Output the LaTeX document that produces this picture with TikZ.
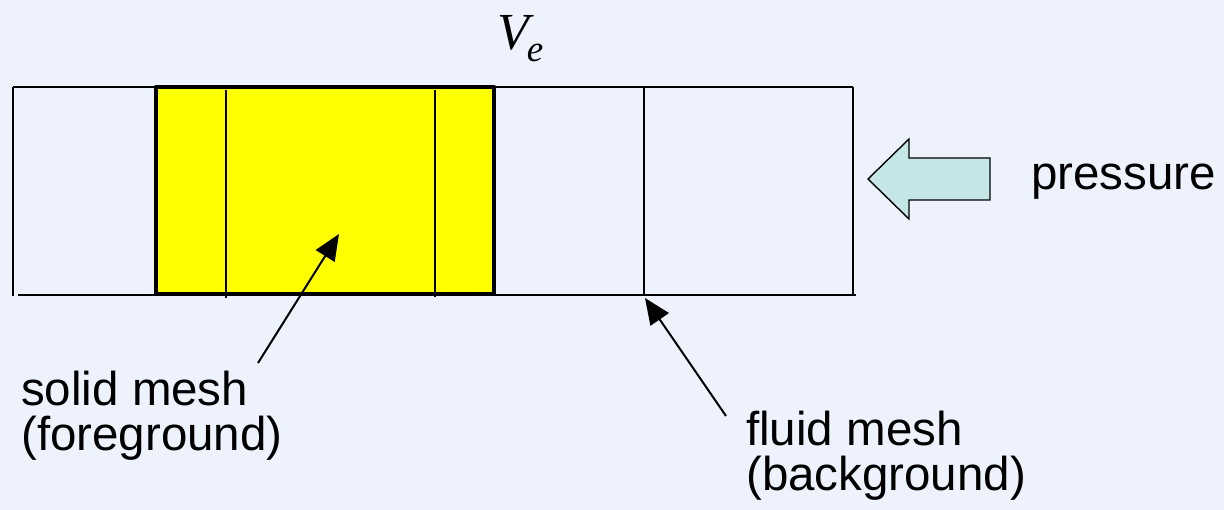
\documentclass[tikz,border=0pt]{standalone}
\usepackage{fontspec}
\setmainfont{Liberation Sans}
\newfontfamily\timesfont{Liberation Serif}
\usetikzlibrary{arrows.meta}
\definecolor{paper}{RGB}{238,242,253}
\definecolor{solidfill}{RGB}{255,255,0}
\definecolor{pressfill}{RGB}{196,230,230}
\tikzset{
  meshline/.style={line width=1.6pt, black},
  solidedge/.style={line width=4.5pt, black, line join=round},
  label/.style={font=\fontsize{47.5}{45}\selectfont, anchor=base west, inner sep=0pt, align=left},
  pointer/.style={line width=2pt, -{Triangle[length=26pt,width=22pt]}},
}
\begin{document}
\begin{tikzpicture}[x=1pt,y=-1pt]
  % page and background
  \fill[paper] (0,0) rectangle (1224,510);
  \useasboundingbox (0,0) rectangle (1224,510);

  % solid mesh block
  \fill[solidfill] (156,87) rectangle (494,294);

  % background fluid mesh
  \draw[meshline] (13,87) -- (853,87);
  \draw[meshline] (18,295) -- (856,295);
  \draw[meshline] (13,87) -- (13,296);
  \draw[meshline] (644,87) -- (644,296);
  \draw[meshline] (853,87) -- (853,296);

  % solid element interfaces
  \draw[meshline] (226,90) -- (226,298);
  \draw[meshline] (435,90) -- (435,297);
  \draw[solidedge] (156,87) rectangle (494,294);

  % volume label
  \node[inner sep=0pt, anchor=base west] (ve) at (497,50)
    {\timesfont\itshape\fontsize{52}{52}\selectfont V\kern-2pt\raisebox{-12pt}{\fontsize{37}{37}\selectfont e}};

  % applied pressure
  \draw[line width=1.4pt, fill=pressfill, line join=miter]
    (868,179) -- (909,139) -- (909,158) -- (990,158) -- (990,200) -- (909,200) -- (909,219) -- cycle;
  \node[label] (press) at (1031,190) {pressure};

  % annotations (base anchor sits on the last line)
  \node[label] (solidlbl) at (21,450) {solid mesh\\(foreground)};
  \node[label] (fluidlbl) at (746,490) {fluid mesh\\(background)};

  \coordinate (solidtail) at (258,363);
  \coordinate (solidtip) at (339,234);
  \coordinate (fluidtail) at (726,416);
  \coordinate (fluidtip) at (645,298);
  \draw[pointer] (solidtail) -- (solidtip);
  \draw[pointer] (fluidtail) -- (fluidtip);
\end{tikzpicture}
\end{document}
